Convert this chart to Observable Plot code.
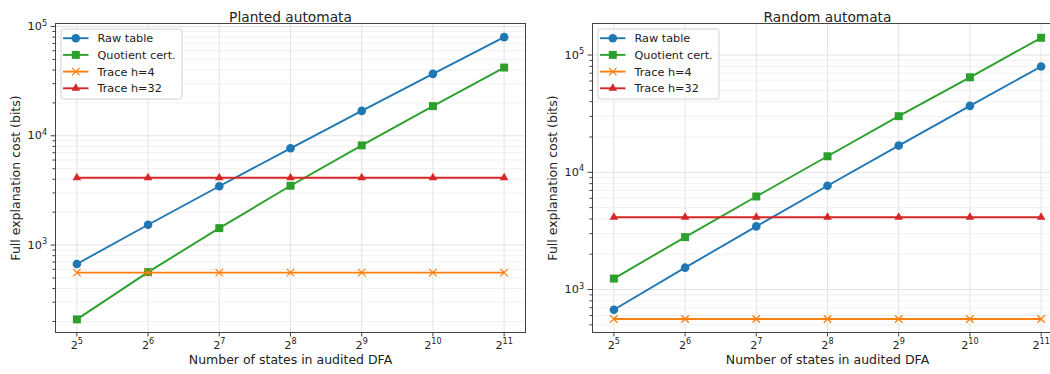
<!DOCTYPE html>
<html><head><meta charset="utf-8">
<script src="https://cdn.jsdelivr.net/npm/d3@7"></script>
<script src="https://cdn.jsdelivr.net/npm/@observablehq/plot@0.6"></script>
<style>
html,body{margin:0;padding:0;background:#fff;overflow:hidden;}
#wrap{display:flex;width:1070px;height:374px;}
#wrap svg{display:block;flex:none;}
</style></head><body><div id="wrap"></div>
<script>
// ---- data ----
const states = [32, 64, 128, 256, 512, 1024, 2048];
const xTickLabels = ["2^5", "2^6", "2^7", "2^8", "2^9", "2^10", "2^11"];
const plantedRaw = [672, 1536, 3456, 7680, 16896, 36864, 79872];
const plantedQuot = [209, 566, 1430, 3490, 8170, 18700, 42100];
const randomRaw = [672, 1536, 3456, 7680, 16896, 36864, 79872];
const randomQuot = [1240, 2800, 6220, 13700, 30100, 64600, 140300];
const trace4 = [560, 560, 560, 560, 560, 560, 560];
const trace32 = [4130, 4130, 4130, 4130, 4130, 4130, 4130];
const seriesNames = ["Raw table", "Quotient cert.", "Trace h=4", "Trace h=32"];
const seriesColors = ["#1f77b4", "#2ca02c", "#ff7f0e", "#d62728"];
const seriesSymbols = ["circle", "square", "times", "triangle"];
const yMajor = [1e3, 1e4, 1e5];
const yMajorLabels = ["10^3", "10^4", "10^5"];
const yMinorAll = [2,3,4,5,6,7,8,9].flatMap(m => [100, 1000, 10000, 100000].map(p => m * p));
const titles = ["Planted automata", "Random automata"];
const xLabel = "Number of states in audited DFA";
const yLabel = "Full explanation cost (bits)";

const FONT = "DejaVu Sans";
const symR = {circle: 4.3, square: 4.5, times: 3.5, triangle: 3.2};
const d3sym = {circle: d3.symbolCircle, square: d3.symbolSquare, times: d3.symbolTimes, triangle: d3.symbolTriangle};

function supify(svg) {
  d3.select(svg).selectAll('g[aria-label$="tick label"] text').each(function () {
    const t = d3.select(this);
    const s = t.text();
    const i = s.indexOf("^");
    if (i < 0) return;
    t.text(null);
    t.append("tspan").text(s.slice(0, i));
    t.append("tspan").attr("font-size", "0.72em").attr("dy", "-0.55em").text(s.slice(i + 1));
  });
}

function addLegend(svg, x0, y0) {
  const g = d3.select(svg).append("g").attr("text-anchor", "start");
  g.append("rect").attr("x", x0).attr("y", y0).attr("width", 121).attr("height", 70)
    .attr("rx", 2.5).attr("fill", "white").attr("fill-opacity", 0.8).attr("stroke", "#d0d0d0");
  seriesNames.forEach((name, i) => {
    const cy = y0 + 9.2 + i * 16.7;
    g.append("line").attr("x1", x0 + 2).attr("x2", x0 + 27.5).attr("y1", cy).attr("y2", cy)
      .attr("stroke", seriesColors[i]).attr("stroke-width", 1.9);
    const sym = seriesSymbols[i];
    const p = g.append("path").attr("transform", `translate(${x0 + 14.8},${cy})`)
      .attr("d", d3.symbol(d3sym[sym], Math.PI * symR[sym] ** 2)());
    if (sym === "times") p.attr("fill", "none").attr("stroke", seriesColors[i]).attr("stroke-width", 1.25);
    else p.attr("fill", seriesColors[i]);
    g.append("text").attr("x", x0 + 36.5).attr("y", cy).attr("dy", "0.35em").attr("text-anchor", "start")
      .attr("font-family", FONT).attr("font-size", 11.25).attr("fill", "#222").text(name);
  });
}

function panel({title, raw, quot, yDomain, width, marginLeft, marginRight}) {
  const vals = [raw, quot, trace4, trace32];
  const rows = seriesNames.map((s, i) => states.map((n, j) => ({series: s, n, v: vals[i][j]})));
  const yMinor = yMinorAll.filter(v => v > yDomain[0] && v < yDomain[1]);
  const marks = [
    Plot.gridY(yMinor, {stroke: "#ededed", strokeOpacity: 1, strokeWidth: 0.8}),
    Plot.gridY(yMajor, {stroke: "#dcdcdc", strokeOpacity: 1, strokeWidth: 0.8}),
    Plot.gridX(states, {stroke: "#dcdcdc", strokeOpacity: 1, strokeWidth: 0.8}),
  ];
  rows.forEach((r, i) => {
    marks.push(Plot.line(r, {x: "n", y: "v", stroke: seriesColors[i], strokeWidth: 1.9}));
    const sym = seriesSymbols[i];
    if (sym === "times")
      marks.push(Plot.dot(r, {x: "n", y: "v", symbol: sym, r: symR[sym], stroke: seriesColors[i], fill: "none", strokeWidth: 1.25}));
    else
      marks.push(Plot.dot(r, {x: "n", y: "v", symbol: sym, r: symR[sym], fill: seriesColors[i], stroke: "none"}));
  });
  marks.push(
    Plot.frame({stroke: "#444", strokeWidth: 1}),
    Plot.axisX(states, {tickFormat: (d, i) => xTickLabels[states.indexOf(d)], tickSize: 4.4, tickPadding: 4, stroke: "#444", fill: "#222", label: null, fontSize: 11.25}),
    Plot.axisY(yMajor, {tickFormat: d => yMajorLabels[yMajor.indexOf(d)], tickSize: 4.4, tickPadding: 4, stroke: "#444", fill: "#222", label: null, fontSize: 11.25}),
    Plot.axisY(yMinor, {tickFormat: () => "", tickSize: 2.6, stroke: "#444", label: null}),
    Plot.text([title], {frameAnchor: "top", dy: -11.5, fontSize: 13.75, fill: "#222"}),
    Plot.text([xLabel], {frameAnchor: "bottom", dy: 31, fontSize: 12.5, fill: "#222"}),
    Plot.text([yLabel], {frameAnchor: "left", textAnchor: "middle", rotate: -90, dx: -39.5, fontSize: 12.5, fill: "#222"})
  );
  const svg = Plot.plot({
    width, height: 374, marginTop: 23, marginBottom: 42, marginLeft, marginRight,
    style: {fontFamily: FONT, fontSize: "11.25px", background: "white", color: "#222", overflow: "visible"},
    x: {type: "log", base: 2, domain: [2 ** 4.7, 2 ** 11.3]},
    y: {type: "log", domain: yDomain},
    marks
  });
  supify(svg);
  addLegend(svg, marginLeft + 6, 29);
  return svg;
}

const wrap = document.getElementById("wrap");
wrap.appendChild(panel({title: titles[0], raw: plantedRaw, quot: plantedQuot, yDomain: [158.6, 106500], width: 530, marginLeft: 55, marginRight: 5}));
wrap.appendChild(panel({title: titles[1], raw: randomRaw, quot: randomQuot, yDomain: [430, 185800], width: 540, marginLeft: 62, marginRight: 8}));
</script></body></html>
